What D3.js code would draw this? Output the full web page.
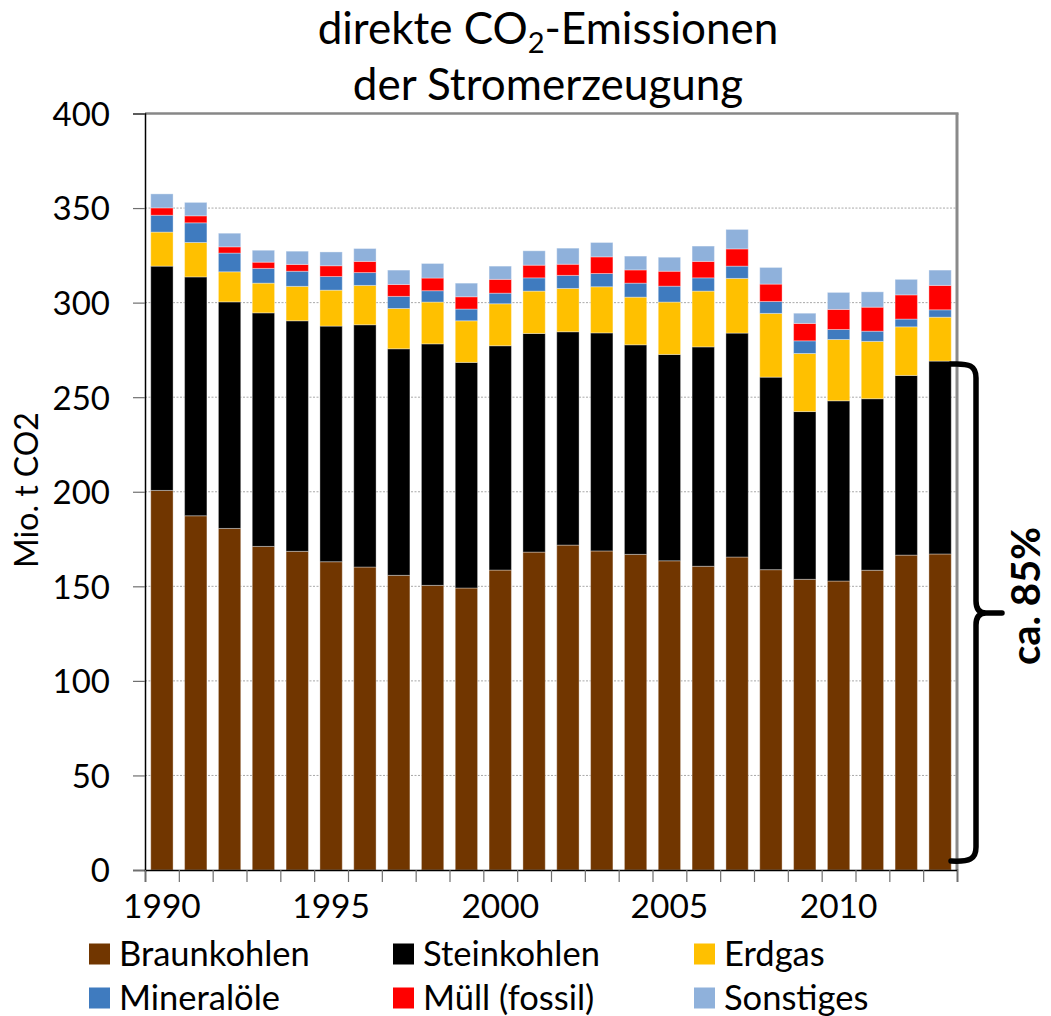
<!DOCTYPE html>
<html>
<head>
<meta charset="utf-8">
<script src="https://cdn.jsdelivr.net/npm/d3@7"></script>
<style>
  html, body { margin: 0; padding: 0; background: #fff; }
  svg { display: block; font-family: Lato, "Open Sans", sans-serif; }
</style>
</head>
<body>
<svg id="chart" width="1051" height="1016"></svg>
<script>
// ---- data ----
const years = [1990,1991,1992,1993,1994,1995,1996,1997,1998,1999,2000,2001,2002,2003,2004,2005,2006,2007,2008,2009,2010,2011,2012,2013];
const braunkohlen = [200.7,187.3,180.6,171.1,168.5,163.0,160.2,155.8,150.5,149.1,158.6,168.1,171.8,168.7,166.9,163.5,160.6,165.5,158.8,153.7,152.8,158.5,166.5,167.1];
const steinkohlen = [118.6,126.3,119.8,123.5,121.9,124.6,128.1,119.8,127.7,119.3,118.6,115.6,112.8,115.3,110.8,109.1,116.0,118.4,101.8,88.7,95.3,90.7,95.0,102.0];
const erdgas = [18.0,18.2,15.9,15.7,18.2,19.0,20.8,21.3,22.1,22.0,22.2,22.4,22.9,24.4,25.2,27.7,29.5,28.9,33.7,30.7,32.4,30.3,25.7,23.2];
const mineraloele = [8.9,10.4,9.9,7.8,8.0,7.2,6.8,6.4,6.0,6.2,5.6,7.0,6.9,7.0,7.4,8.4,7.0,6.5,6.3,6.7,5.3,5.4,4.1,3.9];
const muell = [3.9,3.7,3.3,3.3,3.6,5.7,5.9,6.3,6.7,6.5,7.3,6.7,5.9,8.8,7.0,7.9,8.7,9.1,9.2,9.2,10.6,12.7,12.8,12.9];
const sonstiges = [7.4,7.1,7.2,6.3,7.0,7.3,6.8,7.6,7.7,7.2,7.0,7.6,8.5,7.6,7.3,7.4,8.1,10.3,8.8,5.4,9.0,8.1,8.2,8.1];

const seriesNames = ["Braunkohlen","Steinkohlen","Erdgas","Mineralöle","Müll (fossil)","Sonstiges"];
const seriesColors = ["#713600","#000000","#FFC000","#3F7BBF","#FF0000","#8FB1DB"];
const yTicks = [0,50,100,150,200,250,300,350,400];
const xLabelYears = [1990,1995,2000,2005,2010];
const yTitle = "Mio. t CO2";
const bracketLabel = "ca. 85%";

const seriesValues = [braunkohlen, steinkohlen, erdgas, mineraloele, muell, sonstiges];
const rows = years.map((yr, i) => {
  const r = { year: yr };
  seriesNames.forEach((n, k) => r[n] = seriesValues[k][i]);
  return r;
});

// ---- layout ----
const svg = d3.select("#chart");
const L = 145, R = 957, T = 113.5, B = 870;

const x = d3.scaleBand().domain(years).range([L, R]).paddingInner(0.34).paddingOuter(0.17);
const xEdge = d3.scaleLinear().domain([0, years.length]).range([L, R]);
const y = d3.scaleLinear().domain([0, 400]).range([B, T]);
const color = d3.scaleOrdinal().domain(seriesNames).range(seriesColors);

// grid lines
svg.append("g").selectAll("line")
  .data(yTicks.filter(v => v > 0 && v < 400))
  .join("line")
  .attr("x1", L).attr("x2", R)
  .attr("y1", d => y(d)).attr("y2", d => y(d))
  .attr("stroke", "#a8a8a8").attr("stroke-width", 1)
  .attr("stroke-dasharray", "2,1.5");

// top and right border
svg.append("line").attr("x1", L).attr("x2", R + 1.5).attr("y1", y(400)).attr("y2", y(400))
  .attr("stroke", "#878787").attr("stroke-width", 2.5);
svg.append("line").attr("x1", R).attr("x2", R).attr("y1", y(400)).attr("y2", B)
  .attr("stroke", "#8a8a8a").attr("stroke-width", 3);

// bars
const stack = d3.stack().keys(seriesNames);
const stacked = stack(rows);
svg.append("g").selectAll("g")
  .data(stacked)
  .join("g")
  .attr("fill", d => color(d.key))
  .selectAll("rect")
  .data(d => d)
  .join("rect")
  .attr("x", d => x(d.data.year))
  .attr("width", x.bandwidth())
  .attr("y", d => y(d[1]))
  .attr("height", d => y(d[0]) - y(d[1]))
  .attr("stroke", "#ffffff").attr("stroke-opacity", 0.35).attr("stroke-width", 1);

// y axis
const yAxis = svg.append("g")
  .attr("transform", `translate(${L},0)`)
  .call(d3.axisLeft(y).tickValues(yTicks).tickSize(12).tickPadding(23).tickFormat(d3.format("d")));
yAxis.select(".domain").attr("stroke", "#000").attr("stroke-width", 1.5);
yAxis.selectAll(".tick line").attr("stroke", "#6f6f6f").attr("stroke-width", 1.2);
yAxis.selectAll(".tick text")
  .attr("font-family", "Lato").attr("font-size", 33).attr("fill", "#000").attr("dy", "0.36em");

// x axis (ticks at category boundaries)
const xAxis = svg.append("g")
  .attr("transform", `translate(0,${B})`)
  .call(d3.axisBottom(xEdge).tickValues(d3.range(0, years.length + 1)).tickSize(12).tickFormat(""));
xAxis.select(".domain").attr("stroke", "#000").attr("stroke-width", 1.5);
xAxis.selectAll(".tick line").attr("stroke", "#6f6f6f").attr("stroke-width", 1.2);

svg.append("g").selectAll("text")
  .data(xLabelYears)
  .join("text")
  .attr("x", d => x(d) + x.bandwidth() / 2)
  .attr("y", 918)
  .attr("text-anchor", "middle")
  .attr("font-size", 33.5)
  .attr("fill", "#000")
  .text(d => d);

// y axis title
svg.append("text")
  .attr("transform", "translate(38,490) rotate(-90)")
  .attr("text-anchor", "middle")
  .attr("font-size", 32)
  .attr("fill", "#000")
  .text(yTitle);

// title
const title = svg.append("text").attr("text-anchor", "middle").attr("font-size", 44).attr("fill", "#000");
const t1 = title.append("tspan").attr("x", 548).attr("y", 44);
t1.append("tspan").text("direkte CO");
t1.append("tspan").attr("font-size", 29).attr("dy", 9).text("2");
t1.append("tspan").attr("dy", -9).text("-Emissionen");
title.append("tspan").attr("x", 548).attr("y", 100).text("der Stromerzeugung");

// bracket for Braunkohlen + Steinkohlen of last year
const last = rows[rows.length - 1];
const yTop = y(last["Braunkohlen"] + last["Steinkohlen"]) + 3;
const yBot = y(0) - 9;
const yMid = (yTop + yBot) / 2 + 0.5;
const bx0 = R - 6, bx = 976, tip = 1002;
const br = d3.path();
br.moveTo(bx0, yTop);
br.bezierCurveTo(bx - 6, yTop - 1, bx, yTop + 2, bx, yTop + 14);
br.lineTo(bx, yMid - 12);
br.quadraticCurveTo(bx, yMid, bx + 10, yMid);
br.lineTo(tip, yMid);
br.moveTo(bx + 10, yMid);
br.quadraticCurveTo(bx, yMid, bx, yMid + 12);
br.lineTo(bx, yBot - 14);
br.bezierCurveTo(bx, yBot - 2, bx - 6, yBot + 1, bx0, yBot);
svg.append("path").attr("d", br.toString())
  .attr("fill", "none").attr("stroke", "#000").attr("stroke-width", 5.5)
  .attr("stroke-linecap", "round").attr("stroke-linejoin", "round");

svg.append("text")
  .attr("transform", `translate(1040,${yMid - 17}) rotate(-90)`)
  .attr("text-anchor", "middle")
  .attr("font-size", 40)
  .attr("font-weight", "bold")
  .attr("fill", "#000")
  .text(bracketLabel);

// legend
const legCols = [89, 393, 694];
const legRows = [954, 998];
const leg = svg.append("g").selectAll("g")
  .data(seriesNames)
  .join("g")
  .attr("transform", (d, i) => `translate(${legCols[i % 3]},${legRows[Math.floor(i / 3)]})`);
leg.append("rect").attr("x", 0).attr("y", -10.5).attr("width", 21).attr("height", 21)
  .attr("fill", d => color(d));
leg.append("text").attr("x", 30).attr("y", 0).attr("dy", "0.36em")
  .attr("font-size", 34.5).attr("fill", "#000").text(d => d);
</script>
</body>
</html>
